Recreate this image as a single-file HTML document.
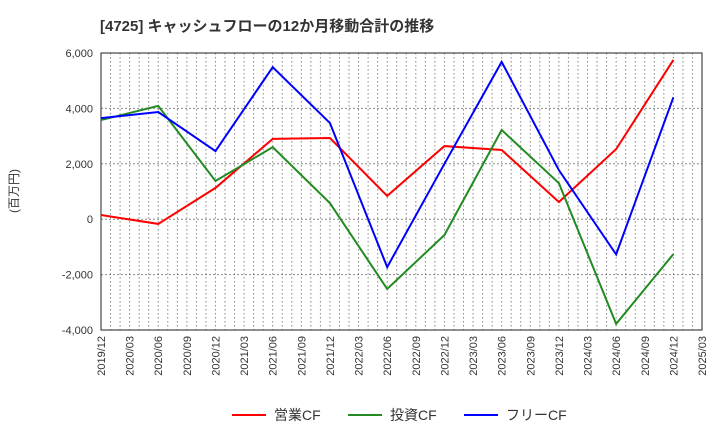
<!DOCTYPE html>
<html><head><meta charset="utf-8"><style>
body{margin:0;background:#fff;font-family:"Liberation Sans","Noto Sans CJK JP",sans-serif}
</style></head><body>
<svg width="720" height="440" xmlns="http://www.w3.org/2000/svg">
<text x="100" y="31" font-size="15" font-weight="bold" fill="#333" font-family="Liberation Sans, Noto Sans CJK JP, sans-serif">[4725]  キャッシュフローの12か月移動合計の推移</text>
<g id="grid"></g>
<g id="axes"></g>
<g id="series"></g>
<text transform="translate(18,191) rotate(-90)" text-anchor="middle" font-size="12" fill="#333" font-family="Liberation Sans, Noto Sans CJK JP, sans-serif">(百万円)</text>
<g font-size="14" fill="#333" font-family="Liberation Sans, Noto Sans CJK JP, sans-serif">
<line x1="232" y1="415" x2="266" y2="415" stroke="#ff0000" stroke-width="2"/>
<text x="274" y="420">営業CF</text>
<line x1="348" y1="415" x2="382" y2="415" stroke="#228b22" stroke-width="2"/>
<text x="390" y="420">投資CF</text>
<line x1="464" y1="415" x2="498" y2="415" stroke="#0000ff" stroke-width="2"/>
<text x="506" y="420">フリーCF</text>
</g>
</svg>
<script>
const xLabels=["2019/12","2020/03","2020/06","2020/09","2020/12","2021/03","2021/06","2021/09","2021/12","2022/03","2022/06","2022/09","2022/12","2023/03","2023/06","2023/09","2023/12","2024/03","2024/06","2024/09","2024/12","2025/03"];
const yTicks=[-4000,-2000,0,2000,4000,6000];
const pointIdx=[0,2,4,6,8,10,12,14,16,18,20];
const operating=[150,-170,1130,2900,2930,840,2640,2500,620,2530,5750];
const investing=[3580,4090,1380,2600,580,-2520,-570,3220,1300,-3780,-1260];
const freeCF=[3650,3870,2460,5490,3470,-1730,2000,5680,1770,-1270,4400];
const L=101,R=702,T=53,B=330,ns="http://www.w3.org/2000/svg";
const xq=i=>L+i*(R-L)/(xLabels.length-1);
const y=v=>B-(v+4000)/10000*(B-T);
const mk=(p,t,a)=>{const e=document.createElementNS(ns,t);for(const k in a)e.setAttribute(k,a[k]);p.appendChild(e);return e;};
const g=document.getElementById('grid'),ax=document.getElementById('axes'),s=document.getElementById('series');
for(let m=1;m<(xLabels.length-1)*3;m++){const x=L+m*(R-L)/((xLabels.length-1)*3);
const l=mk(g,'line',{x1:x,x2:x,y1:T,y2:B,stroke:'#888','stroke-dasharray':'1.5,2.5','stroke-width':1});

}
yTicks.forEach(v=>{const l=mk(g,'line',{x1:L,x2:R,y1:y(v),y2:y(v),stroke:'#888','stroke-dasharray':'2,2','stroke-width':1});


const t=mk(ax,'text',{x:L-8,y:y(v)+4,'text-anchor':'end','font-size':11,fill:'#333'});t.textContent=v.toLocaleString('en-US');

});
const f=mk(ax,'rect',{x:L,y:T,width:R-L,height:B-T,fill:'none',stroke:'#222','stroke-width':1});


xLabels.forEach((lb,i)=>{const t=mk(ax,'text',{transform:`translate(${xq(i)+4},${B+6}) rotate(-90)`,'text-anchor':'end','font-size':11,fill:'#333'});t.textContent=lb;

});
[[operating,'#ff0000','operating-cf-line'],[investing,'#228b22','investing-cf-line'],[freeCF,'#0000ff','free-cf-line']].forEach(([d,c,n])=>{
const p=mk(s,'polyline',{points:d.map((v,i)=>xq(pointIdx[i])+','+y(v)).join(' '),fill:'none',stroke:c,'stroke-width':2});

});
</script>
</body></html>
